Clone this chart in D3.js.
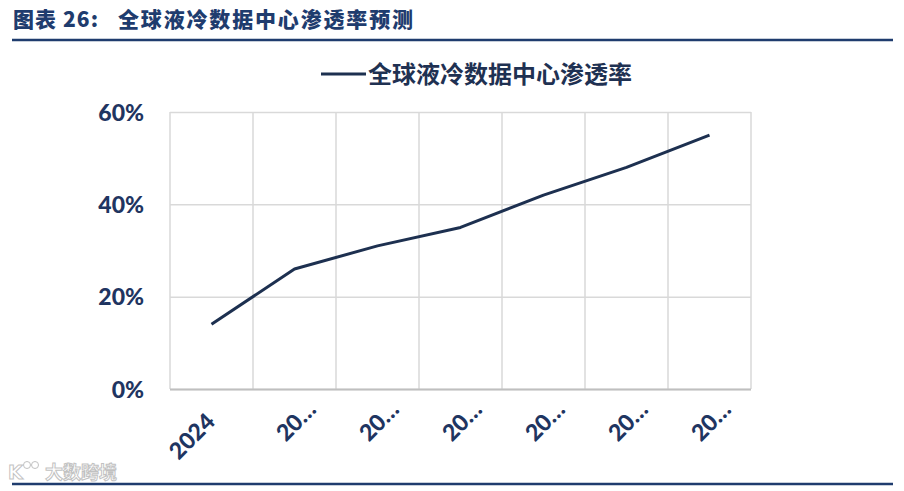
<!DOCTYPE html>
<html><head><meta charset="utf-8">
<script src="https://cdn.jsdelivr.net/npm/d3@7"></script>
<style>
html,body{margin:0;padding:0;background:#fff;}
svg{display:block;}
</style></head>
<body>
<script>
const categories = ["2024","2025","2026","2027","2028","2029","2030"];
const tickLabels = ["2024","20…","20…","20…","20…","20…","20…"];
const penetration = [14, 26, 31, 35, 42, 48, 55];
const yTicks = [0, 20, 40, 60];
const titlePrefix = "图表 26:";
const titleMain = "全球液冷数据中心渗透率预测";
const seriesName = "全球液冷数据中心渗透率";

(function () {
const W = 904, H = 491;
const navy = "#1f3561";
const svg = d3.select("body").append("svg").attr("width", W).attr("height", H);

// title
const title = svg.append("text").attr("y", 27)
  .attr("font-family", "'Noto Sans CJK SC'").attr("font-weight", 900)
  .attr("font-size", 21).attr("fill", "#1f3c6e");
title.append("tspan").attr("x", 13).attr("textLength", 85).attr("lengthAdjust", "spacing").text(titlePrefix);
title.append("tspan").attr("x", 118).attr("textLength", 295).attr("lengthAdjust", "spacing").text(titleMain);
svg.append("line").attr("x1", 12).attr("x2", 893).attr("y1", 40).attr("y2", 40)
  .attr("stroke", "#1f3c6e").attr("stroke-width", 2.5);
svg.append("line").attr("x1", 12).attr("x2", 893).attr("y1", 484).attr("y2", 484)
  .attr("stroke", "#1f3c6e").attr("stroke-width", 2.5);

// plot scales
const pL = 170, pR = 751, pT = 112, pB = 389;
const x = d3.scaleBand().domain(categories).range([pL, pR]).padding(0);
const y = d3.scaleLinear().domain([0, 60]).range([pB, pT]);

// horizontal gridlines
svg.append("g").attr("transform", `translate(${pL},0)`)
  .call(d3.axisLeft(y).tickValues(yTicks).tickSize(-(pR-pL)).tickFormat(""))
  .call(g => g.select(".domain").remove())
  .call(g => g.selectAll(".tick line").attr("stroke", "#d9d9d9").attr("stroke-width", 1.5));

// vertical gridlines at category boundaries
const bounds = categories.map(c => x(c)).concat([pR]);
svg.append("g").selectAll("line").data(bounds).join("line")
  .attr("x1", d => d).attr("x2", d => d).attr("y1", pT).attr("y2", pB)
  .attr("stroke", "#d9d9d9").attr("stroke-width", 1.5);

// baseline
svg.append("line").attr("x1", pL).attr("x2", pR).attr("y1", y(0)+0.5).attr("y2", y(0)+0.5)
  .attr("stroke", "#bfbfbf").attr("stroke-width", 2);

// y labels
svg.append("g").attr("transform", `translate(${pL},0)`)
  .call(d3.axisLeft(y).tickValues(yTicks).tickSize(0).tickPadding(26).tickFormat(d => d + "%"))
  .call(g => g.select(".domain").remove())
  .call(g => g.selectAll("text").attr("font-family", "Lato, 'Open Sans', sans-serif")
     .attr("font-weight", 900).attr("font-size", 23).attr("fill", navy).attr("dy", "0.35em"));

// x labels
const xg = svg.append("g").attr("transform", `translate(0,${pB})`)
  .call(d3.axisBottom(x).tickSize(0).tickFormat((d, i) => tickLabels[i]));
xg.select(".domain").remove();
xg.selectAll("text")
  .attr("font-family", "Lato, 'Open Sans', sans-serif").attr("font-weight", 900)
  .attr("font-size", 23).attr("fill", navy)
  .attr("text-anchor", "end").attr("dy", 0).attr("y", 0)
  .attr("transform", (d, i) => tickLabels[i].endsWith("…")
      ? "translate(23,22) rotate(-45)" : "translate(5,34) rotate(-45)");

// line
const line = d3.line().x((d, i) => x(categories[i]) + x.bandwidth()/2).y(d => y(d));
svg.append("path").datum(penetration).attr("d", line)
  .attr("fill", "none").attr("stroke", "#1d3050").attr("stroke-width", 3)
  .attr("stroke-linejoin", "round");

// legend
svg.append("line").attr("x1", 321).attr("x2", 366).attr("y1", 74).attr("y2", 74)
  .attr("stroke", "#1d3050").attr("stroke-width", 3);
svg.append("text").attr("x", 368).attr("y", 83)
  .attr("font-family", "'Noto Sans CJK SC'").attr("font-weight", 700)
  .attr("font-size", 24).attr("fill", "#1f3152")
  .text(seriesName);

// watermark
const wm = svg.append("g").attr("opacity", 0.6);
wm.append("text").attr("x", 8).attr("y", 479)
  .attr("font-family", "'DejaVu Sans'").attr("font-weight", 700).attr("font-size", 19).attr("fill", "#fff")
  .attr("stroke", "#999").attr("stroke-width", 1)
  .text("K");
wm.append("circle").attr("cx", 27).attr("cy", 465).attr("r", 3.5).attr("fill", "none").attr("stroke", "#999");
wm.append("circle").attr("cx", 35).attr("cy", 465).attr("r", 3.5).attr("fill", "none").attr("stroke", "#999");
wm.append("text").attr("x", 45).attr("y", 479)
  .attr("font-family", "'Noto Sans CJK SC'").attr("font-weight", 700).attr("font-size", 18).attr("fill", "#fff")
  .attr("stroke", "#999").attr("stroke-width", 1)
  .text("大数跨境");
})();
</script>
</body></html>
